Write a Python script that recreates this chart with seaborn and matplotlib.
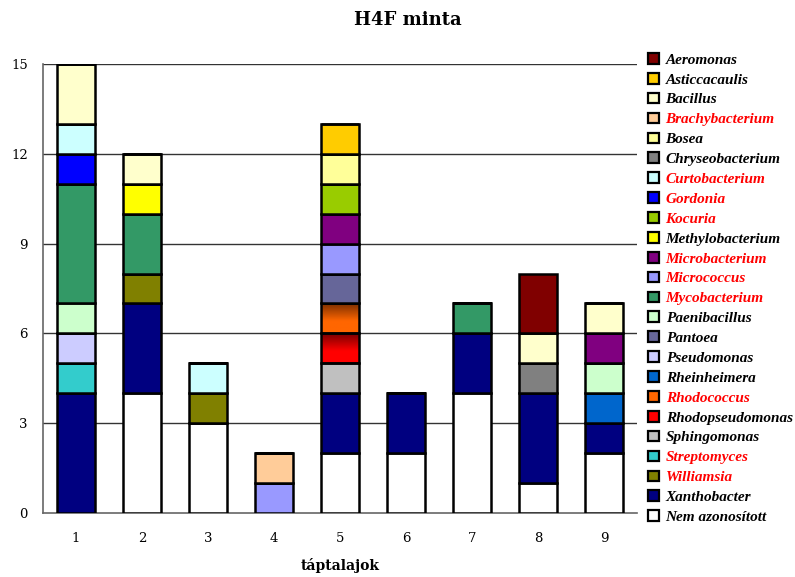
import numpy as np
import pandas as pd
import matplotlib
matplotlib.use("Agg")
import matplotlib.pyplot as plt
from matplotlib.patches import Patch
from matplotlib.colors import to_rgb, to_hex
import seaborn as sns

# plates (táptalajok) on the x axis
plates = [1, 2, 3, 4, 5, 6, 7, 8, 9]

# genera in legend order (top of the stack first)
genera = [
    "Aeromonas", "Asticcacaulis", "Bacillus", "Brachybacterium", "Bosea",
    "Chryseobacterium", "Curtobacterium", "Gordonia", "Kocuria",
    "Methylobacterium", "Microbacterium", "Micrococcus", "Mycobacterium",
    "Paenibacillus", "Pantoea", "Pseudomonas", "Rheinheimera", "Rhodococcus",
    "Rhodopseudomonas", "Sphingomonas", "Streptomyces", "Williamsia",
    "Xanthobacter", "Nem azonosított",
]

# isolate counts per genus on plates 1..9
aeromonas        = [0, 0, 0, 0, 0, 0, 0, 2, 0]
asticcacaulis    = [0, 0, 0, 0, 1, 0, 0, 0, 0]
bacillus         = [2, 1, 0, 0, 0, 0, 0, 1, 1]
brachybacterium  = [0, 0, 0, 1, 0, 0, 0, 0, 0]
bosea            = [0, 0, 0, 0, 1, 0, 0, 0, 0]
chryseobacterium = [0, 0, 0, 0, 0, 0, 0, 1, 0]
curtobacterium   = [1, 0, 1, 0, 0, 0, 0, 0, 0]
gordonia         = [1, 0, 0, 0, 0, 0, 0, 0, 0]
kocuria          = [0, 0, 0, 0, 1, 0, 0, 0, 0]
methylobacterium = [0, 1, 0, 0, 0, 0, 0, 0, 0]
microbacterium   = [0, 0, 0, 0, 1, 0, 0, 0, 1]
micrococcus      = [0, 0, 0, 1, 1, 0, 0, 0, 0]
mycobacterium    = [4, 2, 0, 0, 0, 0, 1, 0, 0]
paenibacillus    = [1, 0, 0, 0, 0, 0, 0, 0, 1]
pantoea          = [0, 0, 0, 0, 1, 0, 0, 0, 0]
pseudomonas      = [1, 0, 0, 0, 0, 0, 0, 0, 0]
rheinheimera     = [0, 0, 0, 0, 0, 0, 0, 0, 1]
rhodococcus      = [0, 0, 0, 0, 1, 0, 0, 0, 0]
rhodopseudomonas = [0, 0, 0, 0, 1, 0, 0, 0, 0]
sphingomonas     = [0, 0, 0, 0, 1, 0, 0, 0, 0]
streptomyces     = [1, 0, 0, 0, 0, 0, 0, 0, 0]
williamsia       = [0, 1, 1, 0, 0, 0, 0, 0, 0]
xanthobacter     = [4, 3, 0, 0, 2, 2, 2, 3, 1]
nem_azonositott  = [0, 4, 3, 0, 2, 2, 4, 1, 2]

counts = [
    aeromonas, asticcacaulis, bacillus, brachybacterium, bosea,
    chryseobacterium, curtobacterium, gordonia, kocuria, methylobacterium,
    microbacterium, micrococcus, mycobacterium, paenibacillus, pantoea,
    pseudomonas, rheinheimera, rhodococcus, rhodopseudomonas, sphingomonas,
    streptomyces, williamsia, xanthobacter, nem_azonositott,
]

colors = [
    "#800000", "#FFCC00", "#FFFFCC", "#FFCC99", "#FFFF99",
    "#808080", "#CCFFFF", "#0000FF", "#99CC00", "#FFFF00",
    "#800080", "#9999FF", "#339966", "#CCFFCC", "#666699",
    "#CCCCFF", "#0066CC", "#FF6600", "#FF0000", "#C0C0C0",
    "#33CCCC", "#808000", "#000080", "#FFFFFF",
]

# genera whose legend label is printed in red
red_labels = {
    "Brachybacterium", "Curtobacterium", "Gordonia", "Kocuria",
    "Microbacterium", "Micrococcus", "Mycobacterium", "Rhodococcus",
    "Streptomyces", "Williamsia",
}

# two genera are drawn with a dark-to-bright vertical shading
shaded = {"Rhodococcus": "#7A2E00", "Rhodopseudomonas": "#780000"}

y_ticks = [0, 3, 6, 9, 12, 15]

rows = []
for g, vals in zip(genera, counts):
    for p, v in zip(plates, vals):
        if v > 0:
            rows.append({"táptalaj": p, "nemzetség": g, "darab": v})
df = pd.DataFrame(rows)
palette = dict(zip(genera, colors))

sns.set_style("white")
plt.rcParams["text.color"] = "black"
plt.rcParams["axes.labelcolor"] = "black"
plt.rcParams["xtick.labelcolor"] = "black"
plt.rcParams["ytick.labelcolor"] = "black"
serif = ["DejaVu Serif"]
legend_font = ["Liberation Serif"]

fig = plt.figure(figsize=(7.95, 5.77), dpi=100)
ax = fig.add_axes([43 / 795, 1 - 513 / 577, (637 - 43) / 795, (513 - 64) / 577])

sns.histplot(
    data=df, x="táptalaj", weights="darab", hue="nemzetség",
    hue_order=genera, palette=palette, multiple="stack", discrete=True,
    shrink=0.58, alpha=1, edgecolor="black", linewidth=1.8,
    legend=False, ax=ax, zorder=3,
)

# vertical shading for the two gradient-filled genera
for name, dark in shaded.items():
    bright = np.array(to_rgb(palette[name]))
    top = np.array(to_rgb(dark))
    t = np.clip(np.linspace(0, 1, 64) / 0.6, 0, 1)[:, None]
    grad = (top * (1 - t) + bright * t)[:, None, :]
    for patch in ax.patches:
        if patch.get_height() > 0 and to_hex(patch.get_facecolor()[:3]) == palette[name].lower():
            x0, y0 = patch.get_x(), patch.get_y()
            w, h = patch.get_width(), patch.get_height()
            ax.imshow(grad, extent=(x0, x0 + w, y0, y0 + h), origin="upper",
                      aspect="auto", zorder=2.9, interpolation="bilinear")
            patch.set_facecolor("none")

ax.set_xlim(0.5, 9.5)
ax.set_ylim(0, 15)
ax.set_yticks(y_ticks)
ax.set_yticklabels([str(v) for v in y_ticks], family=serif, fontsize=9.5, color="black")
ax.set_xticks(plates)
ax.set_xticklabels([str(p) for p in plates], family=serif, fontsize=9.5, color="black")
ax.set_xticks([p + 0.5 for p in [0] + plates], minor=True)
ax.tick_params(axis="x", which="major", length=0, pad=14)
ax.tick_params(axis="x", which="minor", length=5, width=1, color="#555555", direction="out")
ax.tick_params(axis="y", length=5, width=1, color="#555555", direction="out", pad=6)

ax.grid(False)
for v in y_ticks[1:]:
    ax.axhline(v, color="#333333", linewidth=1, zorder=1)

for side in ["top", "right"]:
    ax.spines[side].set_visible(False)
for side in ["left", "bottom"]:
    ax.spines[side].set_color("#666666")
    ax.spines[side].set_linewidth(1.2)

ax.set_ylabel("")
ax.set_xlabel("táptalajok", family=serif, fontweight="bold", fontsize=10, labelpad=9,
              color="black")
fig.text(408 / 795, 1 - 20 / 577, "H4F minta", family=serif, fontweight="bold",
         fontsize=13, ha="center", va="center", color="black")

handles = [Patch(facecolor=palette[g], edgecolor="black", linewidth=1.6) for g in genera]
leg = fig.legend(
    handles, genera, loc="upper left", bbox_to_anchor=(648 / 795, 1 - 53 / 577),
    frameon=False, handlelength=0.7, handleheight=0.7, handletextpad=0.45,
    labelspacing=0.405, borderaxespad=0, borderpad=0,
    prop={"family": legend_font, "weight": "bold", "style": "italic", "size": 11},
)
for txt in leg.get_texts():
    txt.set_color("#FF0000" if txt.get_text() in red_labels else "black")

fig.savefig("out.png", dpi=100)
